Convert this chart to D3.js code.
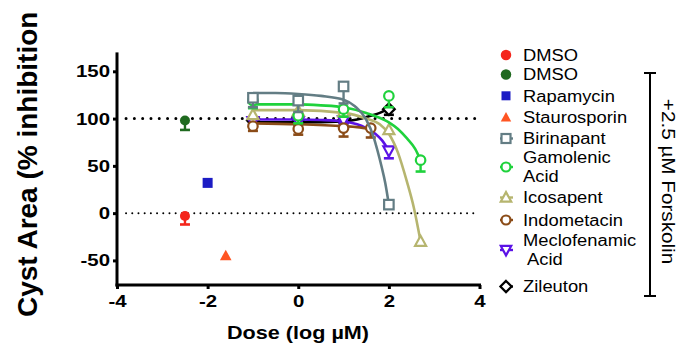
<!DOCTYPE html>
<html><head><meta charset="utf-8">
<script src="https://cdn.jsdelivr.net/npm/d3@7"></script>
<style>body{margin:0;background:#fff}svg{display:block}</style>
</head><body>
<svg id="c" width="695" height="355"></svg>
<script>
// ---------- data ----------
const xTicks = [-4, -2, 0, 2, 4];
const yTicks = [-50, 0, 50, 100, 150];
const refLines = [100, 0];

const names   = ["DMSO", "DMSO", "Rapamycin", "Staurosporin", "Birinapant", "Gamolenic Acid", "Icosapent", "Indometacin", "Meclofenamic Acid", "Zileuton"];
const legendLines = [["DMSO"], ["DMSO"], ["Rapamycin"], ["Staurosporin"], ["Birinapant"], ["Gamolenic", "Acid"], ["Icosapent"], ["Indometacin"], ["Meclofenamic", " Acid"], ["Zileuton"]];
const colors  = ["#f4261c", "#1f6a1f", "#1c1cc4", "#ff5522", "#637d84", "#1fd23c", "#b6b56f", "#8b4c18", "#5b12e6", "#000000"];
const shapes  = ["circle", "circle", "square", "triangle", "square", "circle", "triangle", "circle", "triangleDown", "diamond"];
const filled  = [true, true, true, true, false, false, false, false, false, false];

// measured points (dose log µM, % inhibition, error)
const dmsoRedX = [-2.5], dmsoRedY = [-3], dmsoRedE = [9];
const dmsoGreenX = [-2.5], dmsoGreenY = [98], dmsoGreenE = [10];
const rapaX = [-2], rapaY = [32], rapaE = [0];
const stauroX = [-1.6], stauroY = [-45], stauroE = [0];
const biriX = [-1, 0, 1, 2], biriY = [122, 119, 134, 9], biriE = [10, 12, 18, 3];
const gamoX = [-1, 0, 1, 2, 2.7], gamoY = [119, 103, 110, 124, 56], gamoE = [8, 8, 8, 12, 12];
const icoX = [-1, 0, 1, 2, 2.7], icoY = [104, 108, 107, 88, -30], icoE = [4, 4, 4, 4, 3];
const indoX = [-1, 0, 1, 1.6], indoY = [92, 89, 90, 90], indoE = [5, 6, 9, 10];
const mecloX = [-1, 0, 1, 2], mecloY = [97, 97, 98, 66], mecloE = [3, 3, 3, 8];
const zileX = [-1, 0, 1, 2], zileY = [98, 97, 98, 110], zileE = [3, 3, 3, 6];

// fitted curves
const biriCurveX = [-1, -0.5, 0, 0.5, 1, 1.25, 1.5, 1.66, 1.75, 1.84, 1.92, 2];
const biriCurveY = [127, 127, 126, 124, 120, 113, 99, 81, 66, 49, 32, 9];
const gamoCurveX = [-1, 0, 0.5, 1, 1.5, 2, 2.2, 2.4, 2.58, 2.7];
const gamoCurveY = [115, 115, 114, 112, 106, 96, 89, 79, 68, 56];
const icoCurveX = [-1, 0, 1, 1.5, 1.8, 2, 2.2, 2.4, 2.55, 2.7];
const icoCurveY = [109, 109, 106, 100, 94, 84, 64, 33, 6, -30];
const indoCurveX = [-1, 0, 1, 1.3, 1.6];
const indoCurveY = [95, 94, 92, 91, 89];
const mecloCurveX = [-1, 0, 0.5, 1, 1.3, 1.5, 1.7, 1.85, 2];
const mecloCurveY = [99, 99, 98.5, 97, 94, 90, 84, 77, 66];
const zileCurveX = [-1, 0, 1, 1.3, 1.6, 1.8, 2];
const zileCurveY = [96, 96, 97, 99, 103, 106, 111];

const pointSets = [
  [dmsoRedX, dmsoRedY, dmsoRedE], [dmsoGreenX, dmsoGreenY, dmsoGreenE], [rapaX, rapaY, rapaE], [stauroX, stauroY, stauroE],
  [biriX, biriY, biriE], [gamoX, gamoY, gamoE], [icoX, icoY, icoE], [indoX, indoY, indoE], [mecloX, mecloY, mecloE], [zileX, zileY, zileE]
];
const curveSets = [null, null, null, null,
  [biriCurveX, biriCurveY], [gamoCurveX, gamoCurveY], [icoCurveX, icoCurveY], [indoCurveX, indoCurveY], [mecloCurveX, mecloCurveY], [zileCurveX, zileCurveY]];

const xTitle = "Dose (log µM)";
const yTitle = "Cyst Area (% inhibition";
const bracketLabel = "+2.5 µM Forskolin";

// ---------- drawing ----------
const svg = d3.select("#c");
const FONT = "Liberation Sans, Arial, Helvetica, sans-serif";
const x = d3.scaleLinear().domain([-4, 4]).range([117, 479.5]);
const y = d3.scaleLinear().domain([-76, 170]).range([285, 52.4]);

// reference dotted lines
svg.append("line").attr("x1", x(-3.8)).attr("x2", x(3.95)).attr("y1", y(refLines[0])).attr("y2", y(refLines[0]))
  .attr("stroke", "#000").attr("stroke-width", 3).attr("stroke-linecap", "round").attr("stroke-dasharray", "0,8.3");
svg.append("line").attr("x1", x(-3.8)).attr("x2", x(3.95)).attr("y1", y(refLines[1])).attr("y2", y(refLines[1]))
  .attr("stroke", "#000").attr("stroke-width", 2).attr("stroke-linecap", "round").attr("stroke-dasharray", "0,6.2");

// axes
const fmt = d => String(d);
const xAxis = svg.append("g").attr("transform", `translate(0,${y(-76)})`)
  .call(d3.axisBottom(x).tickValues(xTicks).tickSize(4).tickPadding(6).tickFormat(fmt));
const yAxis = svg.append("g").attr("transform", `translate(${x(-4)},0)`)
  .call(d3.axisLeft(y).tickValues(yTicks).tickSize(4).tickPadding(3).tickFormat(fmt));
[xAxis, yAxis].forEach(g => {
  g.select(".domain").attr("stroke", "#000").attr("stroke-width", 3);
  g.selectAll(".tick line").attr("stroke", "#000").attr("stroke-width", 3);
  g.selectAll(".tick text").attr("fill", "#000").attr("font-family", FONT).attr("font-weight", "bold").attr("font-size", 17);
});
xAxis.select(".domain").attr("d", `M${x(-4) - 1.5},0H${x(4) + 1.5}`);
yAxis.select(".domain").attr("d", `M0,${y(170)}V${y(-76) + 1.5}`);
xAxis.selectAll(".tick text").attr("transform", "scale(1.2,1)").attr("x", 0);
yAxis.selectAll(".tick text").attr("transform", "translate(-7,0) scale(1.2,1)").attr("x", 0);

// titles
svg.append("text").attr("transform", `translate(298,339) scale(1.2,1)`).attr("text-anchor", "middle")
  .attr("font-family", FONT).attr("font-weight", "bold").attr("font-size", 18).text(xTitle);
svg.append("text").attr("transform", `translate(37,317) rotate(-90)`).attr("text-anchor", "start")
  .attr("font-family", FONT).attr("font-weight", "bold").attr("font-size", 28).text(yTitle);

// symbol helper
function drawMarker(g, shape, cx, cy, color, fill, size) {
  const s = size;
  let el;
  if (shape === "circle") el = g.append("circle").attr("cx", cx).attr("cy", cy).attr("r", s / 2);
  else if (shape === "square") el = g.append("rect").attr("x", cx - s / 2).attr("y", cy - s / 2).attr("width", s).attr("height", s);
  else if (shape === "triangle") el = g.append("path").attr("d", `M${cx},${cy - s * 0.6}L${cx + s * 0.58},${cy + s * 0.45}L${cx - s * 0.58},${cy + s * 0.45}Z`);
  else if (shape === "triangleDown") el = g.append("path").attr("d", `M${cx},${cy + s * 0.6}L${cx + s * 0.58},${cy - s * 0.45}L${cx - s * 0.58},${cy - s * 0.45}Z`);
  else if (shape === "diamond") el = g.append("path").attr("d", `M${cx},${cy - s * 0.62}L${cx + s * 0.62},${cy}L${cx},${cy + s * 0.62}L${cx - s * 0.62},${cy}Z`);
  if (fill) el.attr("fill", color).attr("stroke", "none");
  else el.attr("fill", "#fff").attr("stroke", color).attr("stroke-width", 2.2);
}

const line = d3.line().x(d => x(d[0])).y(d => y(d[1])).curve(d3.curveMonotoneX);

// series drawn from last to first so that earlier series sit on top
const drawOrder = [9, 8, 7, 6, 5, 4, 3, 2, 1, 0];
drawOrder.forEach(i => {
  const g = svg.append("g");
  const c = curveSets[i];
  if (c) {
    g.append("path").datum(c[0].map((v, k) => [v, c[1][k]]))
      .attr("d", line).attr("fill", "none").attr("stroke", colors[i]).attr("stroke-width", 2.6);
  }
  const ps = pointSets[i];
  ps[0].forEach((xv, k) => {
    const yv = ps[1][k], e = ps[2][k];
    if (e > 0) {
      g.append("line").attr("x1", x(xv)).attr("x2", x(xv)).attr("y1", y(yv)).attr("y2", y(yv - e))
        .attr("stroke", colors[i]).attr("stroke-width", 2.4);
      g.append("line").attr("x1", x(xv) - 5).attr("x2", x(xv) + 5).attr("y1", y(yv - e)).attr("y2", y(yv - e))
        .attr("stroke", colors[i]).attr("stroke-width", 2.6);
    }
    drawMarker(g, shapes[i], x(xv), y(yv), colors[i], filled[i], filled[i] ? 10 : 9.5);
  });
});

// legend
const legendY = [55, 74.5, 95.8, 117.5, 138.5, 167, 197.5, 220, 250, 286.5];
const lg = svg.append("g");
legendLines.forEach((lines, i) => {
  const cy = legendY[i];
  if (!filled[i]) lg.append("line").attr("x1", 500).attr("x2", 513).attr("y1", cy).attr("y2", cy).attr("stroke", colors[i]).attr("stroke-width", 2.4);
  drawMarker(lg, shapes[i], 506, cy, colors[i], filled[i], shapes[i] === "circle" && filled[i] ? 10.5 : 9);
  const t = lg.append("text").attr("font-family", FONT).attr("font-size", 16.4).attr("fill", "#000")
    .attr("transform", `translate(523,${cy - (lines.length - 1) * 9.7 + 5.7}) scale(1.12,1)`).attr("xml:space", "preserve");
  lines.forEach((ln, j) => t.append("tspan").attr("x", 0).attr("dy", j === 0 ? 0 : 19.4).text(ln));
});

// bracket
const br = svg.append("g").attr("stroke", "#000").attr("stroke-width", 2);
br.append("line").attr("x1", 650).attr("x2", 650).attr("y1", 73).attr("y2", 296);
br.append("line").attr("x1", 644).attr("x2", 656).attr("y1", 73).attr("y2", 73);
br.append("line").attr("x1", 644).attr("x2", 656).attr("y1", 296).attr("y2", 296);
svg.append("text").attr("transform", "translate(661.5,181.5) rotate(90) scale(1.15,1)").attr("text-anchor", "middle")
  .attr("font-family", FONT).attr("font-size", 18).text(bracketLabel);
</script>
</body></html>
